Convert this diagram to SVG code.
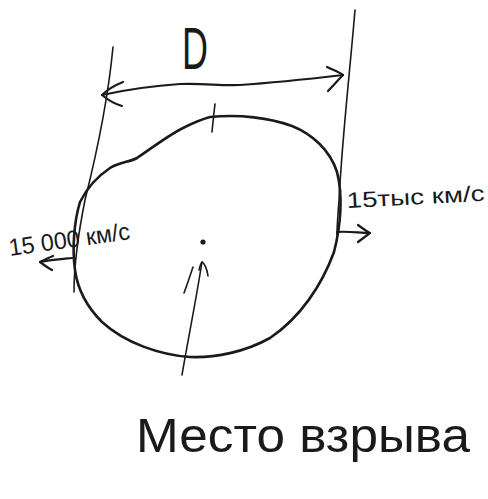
<svg xmlns="http://www.w3.org/2000/svg" width="488" height="499" viewBox="0 0 488 499">
<style>
.ink{fill:none;stroke:#1a1a1a;stroke-linecap:round;stroke-linejoin:round}
.thin{stroke-width:1.6}
.mid{stroke-width:2.2}
.thick{stroke-width:2.6}
.lbl{font-family:"Liberation Sans",Arial,sans-serif;fill:#1a1a1a}
</style>
<rect width="488" height="499" fill="#ffffff"/>
<g id="guides">
<path class="ink thin" d="M113,47 C108,100 95,160 85,200 C79,230 74,260 74,292"/>
<path class="ink thin" d="M355,10 C350,70 342,140 339,200 C338,215 337,225 337,235"/>
</g>
<g id="explosion-circle">
<path class="ink thick" d="M210,117 C240,114 270,118 292,126 C312,134 330,150 337,172 C343,195 341,225 334,252 C322,285 300,318 270,338 C245,352 215,358 190,357 C160,355 125,343 102,322 C88,308 78,292 75,270 C72,248 74,222 80,202 C88,186 98,176 110,168 C120,162 130,162 137,158 C152,148 170,134 185,127 C195,122 203,119 210,117 Z"/>
<path class="ink thin" d="M215,104 C214,112 213,122 212,132"/>
<circle cx="203" cy="242" r="2.6" fill="#1a1a1a"/>
</g>
<g id="connectors">
<path class="ink mid" d="M102,95 C125,90 150,86 180,84 C205,83 220,86 240,85 C270,83 300,80 343,75"/>
<path class="ink mid" d="M123,82 C113,86 106,91 102,95 C108,100 115,104 122,106"/>
<path class="ink mid" d="M327,67 C333,70 339,72 343,75 C338,80 333,86 328,91"/>
<path class="ink mid" d="M72,258 C62,259 50,260 40,262"/>
<path class="ink mid" d="M53,256 C48,258 44,260 40,262 C44,265 48,268 52,270"/>
<path class="ink mid" d="M337,232 C348,231 360,233 370,233"/>
<path class="ink mid" d="M358,225 C362,228 366,231 370,233 C366,236 362,239 358,242"/>
<path class="ink thin" d="M182,375 C188,340 196,300 202,262"/>
<path class="ink thin" d="M199,270 C200,266 201,263 202,262 C205,264 207,269 208,276"/>
<path class="ink thin" d="M193,267 C190,276 187,285 184,293"/>
</g>
<g id="label-d">
<text class="lbl" x="182" y="69" font-size="60" textLength="26" lengthAdjust="spacingAndGlyphs">D</text>
</g>
<g id="label-left-speed">
<text class="lbl" x="10" y="256" font-size="24" textLength="122" lengthAdjust="spacingAndGlyphs" transform="rotate(-8 10 256)">15 000 км/с</text>
</g>
<g id="label-right-speed">
<text class="lbl" x="347" y="208" font-size="22" textLength="138" lengthAdjust="spacingAndGlyphs" transform="rotate(-3 347 208)">15тыс км/с</text>
</g>
<g id="label-place">
<text class="lbl" x="136" y="452" font-size="48" textLength="334" lengthAdjust="spacingAndGlyphs">Место взрыва</text>
</g>
</svg>
